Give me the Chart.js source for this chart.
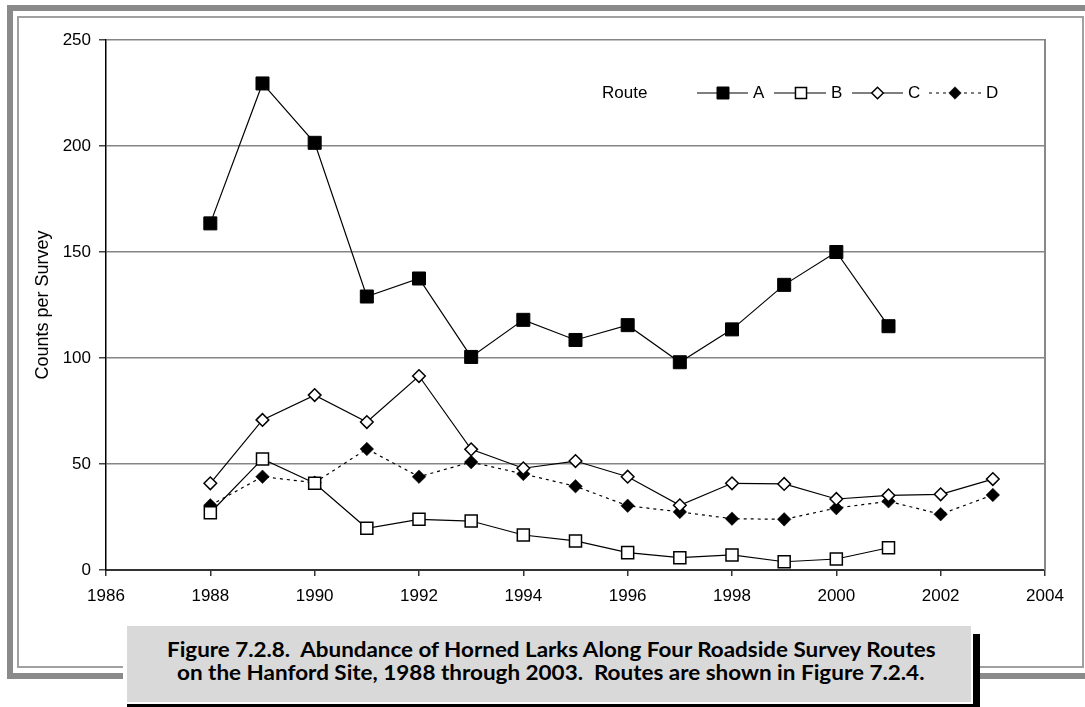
<!DOCTYPE html>
<html><head><meta charset="utf-8">
<script src="https://cdn.jsdelivr.net/npm/chart.js@4.4.1/dist/chart.umd.min.js"></script>
<style>
html,body{margin:0;padding:0;background:#fff;}
body{width:1085px;height:707px;position:relative;overflow:hidden;font-family:"Liberation Sans",Arial,sans-serif;}
.abs{position:absolute;}
.capline{position:absolute;left:0;white-space:nowrap;font-family:Lato,"Open Sans",sans-serif;font-weight:bold;font-size:21px;line-height:23px;color:#000;transform-origin:0 0;}
</style></head><body>
<div class="abs" style="left:7px;top:5px;width:1078px;height:6px;background:#8a8a8a"></div>
<div class="abs" style="left:7px;top:5px;width:6px;height:674px;background:#8a8a8a"></div>
<div class="abs" style="left:7px;top:673px;width:1078px;height:6px;background:#8a8a8a"></div>
<div class="abs" style="left:17px;top:16px;width:1063px;height:648px;border:2px solid #a0a0a0"></div>
<canvas id="c" width="1085" height="707" class="abs" style="left:0;top:0"></canvas>
<div class="abs" style="left:123px;top:620px;width:857px;height:87px;background:#fff"></div>
<div class="abs" style="left:973px;top:634px;width:7px;height:73px;background:#000"></div>
<div class="abs" style="left:127px;top:704px;width:853px;height:3px;background:#000"></div>
<div class="abs" style="left:127px;top:626px;width:844px;height:76px;background:#d9d9d9"></div>
<div id="cap1" class="capline" style="top:637px">Figure 7.2.8.&nbsp; Abundance of Horned Larks Along Four Roadside Survey Routes</div>
<div id="cap2" class="capline" style="top:659.5px">on the Hanford Site, 1988 through 2003.&nbsp; Routes are shown in Figure 7.2.4.</div>
<script>
// ---- data ----
const years = [1988,1989,1990,1991,1992,1993,1994,1995,1996,1997,1998,1999,2000,2001,2002,2003];
const seriesNames = ['A','B','C','D'];
const routeA = [163.5,229.5,201.5,129,137.5,100.5,118,108.5,115.5,98,113.5,134.5,150,115,null,null];
const routeB = [27,52.4,40.9,19.7,23.9,23.1,16.5,13.7,8.2,5.8,7.1,3.9,5.2,10.5,null,null];
const routeC = [40.9,70.8,82.5,69.8,91.5,56.9,48,51.4,44,30.5,40.9,40.6,33.5,35.2,35.7,42.9];
const routeD = [30.5,44,41.2,57.1,44,50.9,45.3,39.5,30.3,27.4,24.2,23.9,29.2,32.4,26.3,35.4];
const yTicks = [0,50,100,150,200,250];
const xTicks = [1986,1988,1990,1992,1994,1996,1998,2000,2002,2004];
const yTitle = 'Counts per Survey';
const legendTitle = 'Route';

function pts(vals){ const out=[]; vals.forEach((v,i)=>{ if(v!==null) out.push({x:years[i], y:v}); }); return out; }

const styles = [
  {pointStyle:'rect', radius:9.2, bg:'#000', bw:1, dash:[]},
  {pointStyle:'rect', radius:8.5, bg:'#fff', bw:1.5, dash:[]},
  {pointStyle:'rectRot', radius:6.3, bg:'#fff', bw:1.5, dash:[]},
  {pointStyle:'rectRot', radius:6.8, bg:'#000', bw:0.5, dash:[3,4]}
];
const allVals = [routeA, routeB, routeC, routeD];
const datasets = allVals.map((v,i)=>({
  label: seriesNames[i],
  data: pts(v),
  borderColor:'#000', borderWidth:1.2, borderDash:styles[i].dash,
  pointStyle:styles[i].pointStyle, pointRadius:styles[i].radius,
  pointBackgroundColor:styles[i].bg, pointBorderColor:'#000', pointBorderWidth:styles[i].bw,
  tension:0, fill:false
}));

function marker(ctx, style, r, x, y, bg, bw){
  ctx.save(); ctx.setLineDash([]);
  ctx.beginPath();
  if(style==='rect'){ const s=Math.SQRT1_2*r; ctx.rect(x-s,y-s,2*s,2*s); }
  else { ctx.moveTo(x-r,y); ctx.lineTo(x,y-r); ctx.lineTo(x+r,y); ctx.lineTo(x,y+r); ctx.closePath(); }
  ctx.fillStyle=bg; ctx.fill(); ctx.lineWidth=bw; ctx.strokeStyle='#000'; ctx.stroke();
  ctx.restore();
}

const legendPos = [
  {x0:697,x1:748,m:723,t:753},
  {x0:774,x1:826,m:801,t:831},
  {x0:852,x1:903,m:877.5,t:908},
  {x0:929,x1:981,m:955,t:986}
];
const frameLegend = {
  id:'frameLegend',
  beforeDatasetsDraw(chart){
    const a=chart.chartArea, ctx=chart.ctx;
    ctx.save(); ctx.strokeStyle='#888'; ctx.lineWidth=2;
    ctx.beginPath(); ctx.moveTo(a.right, a.top-1); ctx.lineTo(a.right, a.bottom); ctx.stroke();
    ctx.restore();
  },
  afterDraw(chart){
    const ctx=chart.ctx, y=93;
    ctx.save();
    ctx.font='17px "Liberation Sans", Arial, sans-serif';
    ctx.fillStyle='#000'; ctx.textBaseline='middle'; ctx.textAlign='left';
    ctx.fillText(legendTitle, 602, y);
    legendPos.forEach((p,i)=>{
      ctx.save(); ctx.strokeStyle='#000'; ctx.lineWidth=1.2; ctx.setLineDash(styles[i].dash);
      ctx.beginPath(); ctx.moveTo(p.x0,y); ctx.lineTo(p.x1,y); ctx.stroke(); ctx.restore();
      marker(ctx, styles[i].pointStyle, styles[i].radius*0.92, p.m, y, styles[i].bg, styles[i].bw);
      ctx.fillText(seriesNames[i], p.t, y);
    });
    ctx.restore();
  }
};

new Chart(document.getElementById('c'), {
  type:'line',
  data:{datasets},
  options:{
    responsive:false, animation:false,
    layout:{padding:{left:0, top:40, right:40, bottom:0}},
    plugins:{legend:{display:false}, tooltip:{enabled:false}},
    scales:{
      x:{type:'linear', min:xTicks[0], max:xTicks[xTicks.length-1],
        afterFit(s){ s.height = 137; },
        afterBuildTicks(s){ s.ticks = xTicks.map(v=>({value:v})); },
        ticks:{callback:v=>String(v), autoSkip:false, maxRotation:0, padding:10, color:'#000', font:{family:'"Liberation Sans", Arial, sans-serif', size:17}},
        grid:{drawOnChartArea:false, tickLength:6, tickColor:'#333', lineWidth:1.5},
        border:{color:'#333', width:2}
      },
      y:{type:'linear', min:yTicks[0], max:yTicks[yTicks.length-1],
        afterFit(s){ s.width = 106; },
        afterBuildTicks(s){ s.ticks = yTicks.map(v=>({value:v})); },
        ticks:{padding:8, color:'#000', font:{family:'"Liberation Sans", Arial, sans-serif', size:17}},
        grid:{color:'#858585', lineWidth:1.5, tickLength:7, tickColor:'#444'},
        border:{color:'#000', width:1.5},
        title:{display:true, text:yTitle, color:'#000', padding:{top:32, bottom:0}, font:{family:'"Liberation Sans", Arial, sans-serif', size:18, weight:'normal'}}
      }
    }
  },
  plugins:[frameLegend]
});

// fit caption lines
function fitLine(id, left, right){
  const el=document.getElementById(id);
  const w=el.getBoundingClientRect().width;
  const sc=(right-left)/w;
  el.style.left=left+'px';
  el.style.transform='scaleX('+sc+')';
}
fitLine('cap1', 166.5, 935);
fitLine('cap2', 176.5, 924);
</script>
</body></html>
